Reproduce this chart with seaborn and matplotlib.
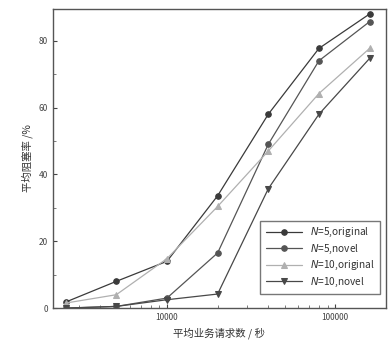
import numpy as np
import pandas as pd
import matplotlib
matplotlib.use("Agg")
import matplotlib.pyplot as plt
import seaborn as sns

requests = [2500, 5000, 10000, 20000, 40000, 80000, 160000]
n5_original = [1.8, 8.0, 14.0, 33.6, 58.0, 77.7, 88.0]
n5_novel = [0.0, 0.5, 3.0, 16.5, 49.0, 74.0, 85.7]
n10_original = [1.5, 4.0, 14.8, 30.4, 47.0, 64.2, 77.7]
n10_novel = [0.0, 0.5, 2.5, 4.2, 35.7, 58.0, 74.7]

labels = ["$N$=5,original", "$N$=5,novel", "$N$=10,original", "$N$=10,novel"]
series = [n5_original, n5_novel, n10_original, n10_novel]

df = pd.concat([pd.DataFrame({"x": requests, "y": v, "name": lab})
                for v, lab in zip(series, labels)])

sns.set_style("ticks")
plt.rcParams['font.family'] = ['Noto Sans CJK SC', 'DejaVu Sans']

fig = plt.figure(figsize=(3.89, 3.45), dpi=100)
ax = fig.add_axes([0.136, 0.107, 0.856, 0.867])

colors = ["#3a3a3a", "#555555", "#b0b0b0", "#484848"]
markers = ["o", "o", "^", "v"]
for lab, c, m in zip(labels, colors, markers):
    sub = df[df["name"] == lab]
    sns.lineplot(data=sub, x="x", y="y", ax=ax, color=c, marker=m,
                 markersize=4, markeredgecolor=c, linewidth=0.9, label=lab)

ax.set_xscale("log")
ax.set_xlim(2100, 200000)
ax.set_ylim(0, 89.5)
ax.set_yticks([0, 20, 40, 60, 80])
ax.set_yticks([10, 30, 50, 70], minor=True)
ax.set_xticks([10000, 100000])
ax.set_xticklabels(["10000", "100000"])
ax.tick_params(direction="in", labelsize=6, colors="#444444", length=3)
ax.tick_params(which="minor", direction="in", length=2, colors="#666666")
for s in ax.spines.values():
    s.set_color("#555555")
    s.set_linewidth(1.0)

ax.set_xlabel("平均业务请求数 / 秒", fontsize=7.5, color="#333333")
ax.set_ylabel("平均阻塞率 /%", fontsize=7.5, color="#333333")

leg = ax.legend(loc="lower right", fontsize=7.3, frameon=True, fancybox=False,
                edgecolor="#555555", handlelength=3.6, borderpad=0.5,
                labelspacing=0.35, bbox_to_anchor=(0.998, 0.03))
for t in leg.get_texts():
    t.set_color("#333333")

fig.savefig("out.png", dpi=100)
